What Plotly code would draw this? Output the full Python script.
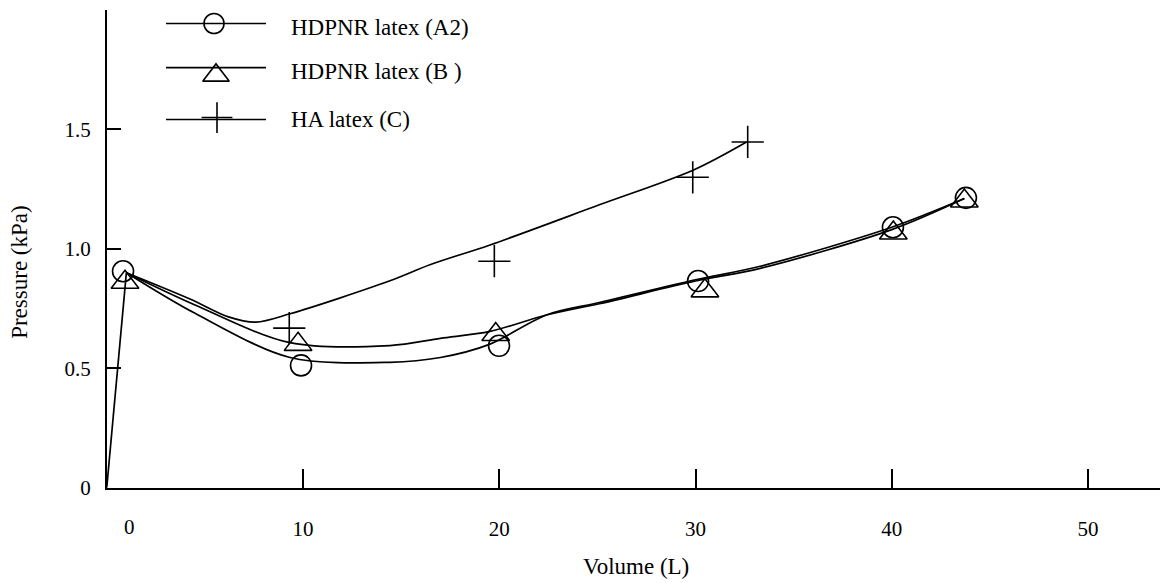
import plotly.graph_objects as go

# ---- measured points (Volume in L, Pressure in kPa) ----
a2_volume = [0.83, 9.90, 19.99, 30.13, 40.06, 43.78]
a2_pressure = [0.906, 0.512, 0.594, 0.865, 1.09, 1.213]

b_volume = [0.93, 9.75, 19.82, 30.48, 40.08, 43.70]
b_pressure = [0.86, 0.60, 0.641, 0.824, 1.066, 1.20]

c_volume = [9.30, 19.75, 29.86, 32.66]
c_pressure = [0.668, 0.948, 1.299, 1.447]

# ---- smoothed trend curves ----
origin_volume = [0.0, 1.0]
origin_pressure = [0.0, 0.90]

fit_a2_volume = [1.0, 4.5, 9.34, 14.43, 17.0, 19.5, 22.4, 25.1, 30.0, 33.3, 40.0, 43.7]
fit_a2_pressure = [0.90, 0.73, 0.545, 0.525, 0.545, 0.60, 0.723, 0.775, 0.87, 0.927, 1.09, 1.21]

fit_b_volume = [1.0, 4.5, 9.34, 14.43, 17.0, 19.53, 22.4, 25.1, 30.0, 33.3, 40.0, 43.7]
fit_b_pressure = [0.90, 0.765, 0.607, 0.595, 0.625, 0.654, 0.723, 0.77, 0.865, 0.918, 1.08, 1.21]

fit_c_volume = [1.0, 4.24, 6.2, 7.6, 9.34, 14.43, 16.5, 19.53, 25.1, 29.9, 32.6]
fit_c_pressure = [0.90, 0.79, 0.715, 0.693, 0.728, 0.866, 0.934, 1.016, 1.184, 1.33, 1.447]

# ---- axes ----
x_tick_vals = [10, 20, 30, 40, 50]
x_tick_text = ["10", "20", "30", "40", "50"]
x_zero_label_pos = 1.15
x_zero_label_text = "0"
y_tick_vals = [0, 0.5, 1.0, 1.5]
y_tick_text = ["0", "0.5", "1.0", "1.5"]

series_names = ["HDPNR latex (A2)", "HDPNR latex (B )", "HA latex (C)"]
series_symbols = ["circle-open", "triangle-up-open", "cross-thin-open"]
series_sizes = [21, 24, 23]

# legend key placement (page pixels)
legend_line_x = [166, 266]
legend_line_y = [24, 69, 122]
legend_marker_x = [214, 216, 217]
legend_marker_y = [24, 77, 120]
legend_text_x = 289
legend_text_y = [28, 73, 122]

W, H = 1160, 583
FONT = "Liberation Serif, Times New Roman, serif"
INK = "black"
LW = 1.7

x_left_px, x_px_per_unit = 106.75, 19.625
y_bottom_px, y_top_px = 498, 10

fig = go.Figure()

# origin segment and trend curves
fig.add_trace(go.Scatter(x=origin_volume, y=origin_pressure, mode="lines",
                         line=dict(color=INK, width=LW), showlegend=False))
for fv, fp in [(fit_a2_volume, fit_a2_pressure), (fit_b_volume, fit_b_pressure),
               (fit_c_volume, fit_c_pressure)]:
    fig.add_trace(go.Scatter(x=fv, y=fp, mode="lines",
                             line=dict(color=INK, width=LW, shape="spline", smoothing=0.9),
                             showlegend=False))

# measured markers
for (v, p), sym, sz in zip([(a2_volume, a2_pressure), (b_volume, b_pressure),
                            (c_volume, c_pressure)], series_symbols, series_sizes):
    fig.add_trace(go.Scatter(x=v, y=p, mode="markers",
                             marker=dict(symbol=sym, size=sz, color=INK,
                                         line=dict(color=INK, width=1.6)),
                             showlegend=False))

# hand-built legend in page-pixel coordinates (x2/y2)
for i in range(3):
    fig.add_trace(go.Scatter(x=legend_line_x, y=[legend_line_y[i]] * 2, mode="lines",
                             line=dict(color=INK, width=LW), xaxis="x2", yaxis="y2",
                             showlegend=False))
    fig.add_trace(go.Scatter(x=[legend_marker_x[i]], y=[legend_marker_y[i]], mode="markers",
                             marker=dict(symbol=series_symbols[i], size=series_sizes[i] - 1,
                                         color=INK, line=dict(color=INK, width=1.6)),
                             xaxis="x2", yaxis="y2", showlegend=False))
    fig.add_annotation(x=legend_text_x, y=legend_text_y[i], xref="x2", yref="y2",
                       text=series_names[i], showarrow=False, xanchor="left",
                       yanchor="middle", font=dict(family=FONT, size=23, color=INK))

# the "0" label of the volume axis sits just right of the origin
fig.add_annotation(x=x_zero_label_pos, y=0, xref="x", yref="y", yshift=-39,
                   text=x_zero_label_text, showarrow=False, xanchor="center",
                   yanchor="middle", font=dict(family=FONT, size=21, color=INK))

# axis titles
fig.add_annotation(x=636, y=578, xref="x2", yref="y2", text="Volume (L)",
                   showarrow=False, xanchor="center", yanchor="middle",
                   font=dict(family=FONT, size=23, color=INK))
fig.add_annotation(x=20, y=348, xref="x2", yref="y2", text="Pressure (kPa)",
                   textangle=-90, showarrow=False, xanchor="center", yanchor="bottom",
                   font=dict(family=FONT, size=23, color=INK))

tick_font = dict(family=FONT, size=21, color=INK)
fig.update_layout(
    width=W, height=H,
    margin=dict(l=0, r=0, t=0, b=0),
    paper_bgcolor="white",
    plot_bgcolor="rgba(0,0,0,0)",
    showlegend=False,
    font=dict(family=FONT, color=INK),
    xaxis=dict(domain=[x_left_px / W, 1], range=[0, (W - x_left_px) / x_px_per_unit],
               showline=True, linecolor=INK, linewidth=1.5,
               ticks="inside", ticklen=19, tickwidth=1.5, tickcolor=INK,
               tickvals=x_tick_vals, ticktext=x_tick_text, tickfont=tick_font,
               ticklabelstandoff=21,
               showgrid=False, zeroline=False, anchor="y"),
    yaxis=dict(domain=[(H - y_bottom_px) / H, (H - y_top_px) / H], range=[0, 2.0],
               showline=True, linecolor=INK, linewidth=1.5,
               ticks="inside", ticklen=14, tickwidth=1.5, tickcolor=INK,
               tickvals=y_tick_vals, ticktext=y_tick_text, tickfont=tick_font,
               ticklabelstandoff=10,
               showgrid=False, zeroline=False, anchor="x"),
    xaxis2=dict(domain=[0, 1], range=[0, W], visible=False, anchor="y2"),
    yaxis2=dict(domain=[0, 1], range=[H, 0], visible=False, anchor="x2"),
)

fig.write_html("out.html")
